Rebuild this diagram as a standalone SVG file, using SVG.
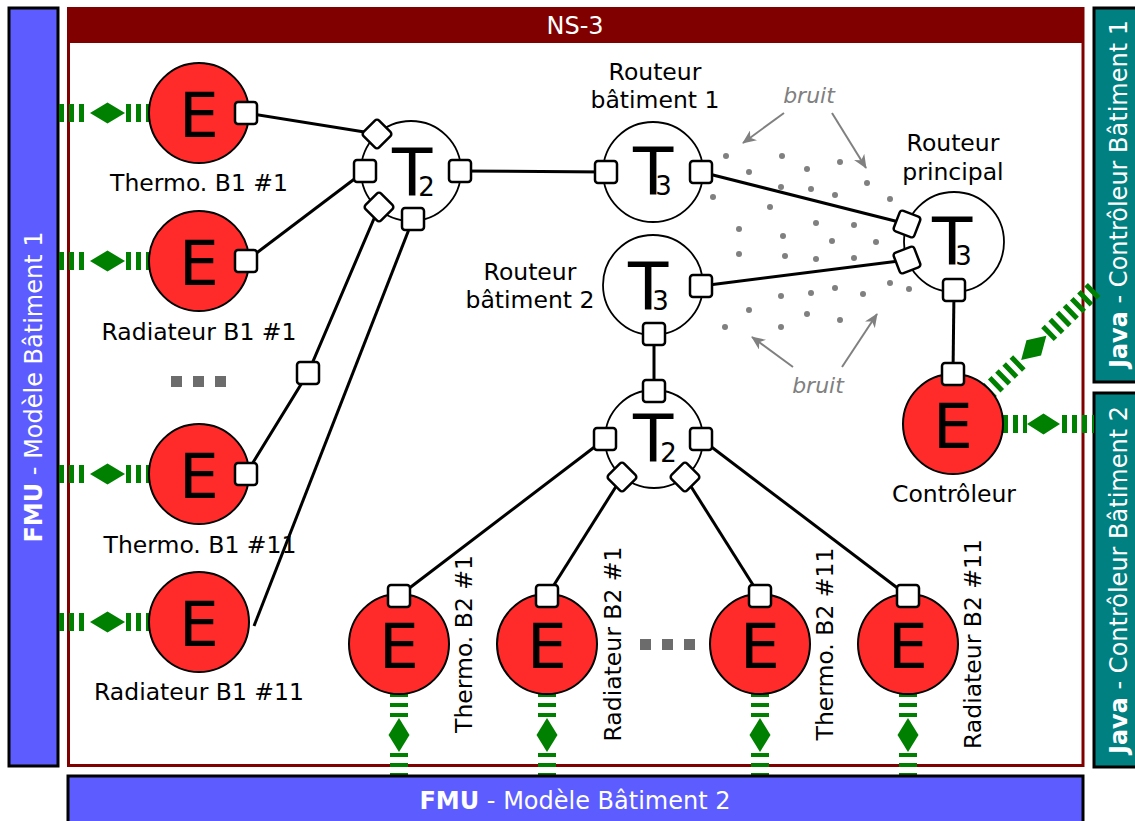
<svg xmlns="http://www.w3.org/2000/svg" width="1135" height="821" viewBox="0 0 1135 821">
<defs>
<style>
.lbl{font-family:"DejaVu Sans","Liberation Sans",sans-serif;font-size:23.5px;fill:#000;text-anchor:middle}
.bar{font-family:"DejaVu Sans","Liberation Sans",sans-serif;font-size:24px;fill:#fff;text-anchor:middle}
.b{font-weight:bold}
.e circle{fill:#ff2a2a;stroke:#000;stroke-width:2}
.big{font-family:"DejaVu Sans","Liberation Sans",sans-serif;font-size:63px;fill:#000}
.tt{font-family:"DejaVu Sans","Liberation Sans",sans-serif;font-size:66px;fill:#000}
.sub{font-size:26px}
.t circle{fill:#fff;stroke:#000;stroke-width:1.8}
.port{fill:#fff;stroke:#000;stroke-width:2.5}
.wire{stroke:#000;stroke-width:3;fill:none}
.gd{stroke:#008000;stroke-width:18;stroke-dasharray:5 5;fill:none}
.dia{fill:#008000}
.dot{fill:#808080}
.ar{stroke:#808080;stroke-width:2;fill:none;marker-end:url(#ah)}
.bruit{font-family:"DejaVu Sans","Liberation Sans",sans-serif;font-style:italic;font-size:22px;fill:#808080;text-anchor:middle}
.ell{fill:#6c6c6c}
</style>
<rect id="p" x="-11" y="-11" width="22" height="22" rx="3"/>
<marker id="ah" markerUnits="userSpaceOnUse" markerWidth="14" markerHeight="12" viewBox="0 0 14 12" refX="13" refY="6" orient="auto">
<path d="M0,0 L14,6 L0,12 L4,6 z" fill="#808080"/>
</marker>
<g id="lhl">
<line class="gd" x1="59" y1="0" x2="88" y2="0"/>
<polygon class="dia" points="90,0 107.5,-10.5 125,0 107.5,10.5"/>
<line class="gd" x1="126" y1="0" x2="150" y2="0"/>
</g>
<g id="vl">
<line class="gd" x1="0" y1="693" x2="0" y2="718" style="stroke-dasharray:4 6"/>
<polygon class="dia" points="0,718 10.5,735 0,752 -10.5,735"/>
<line class="gd" x1="0" y1="753" x2="0" y2="776" style="stroke-dasharray:4 6"/>
</g>
</defs>

<rect x="0" y="0" width="1135" height="821" fill="#fff"/>

<g id="ns3-frame">
<rect x="68.5" y="8.5" width="1014.5" height="757" fill="#fff" stroke="#800000" stroke-width="3"/>
<rect x="67" y="7" width="1017" height="36" fill="#800000"/>
<text class="bar" x="575" y="34">NS-3</text>
</g>

<g id="fmu-b1">
<rect x="9" y="8" width="49" height="758" fill="#5c5cff" stroke="#000" stroke-width="3"/>
<text class="bar" transform="translate(42,387) rotate(-90)"><tspan class="b">FMU</tspan> - Modèle Bâtiment 1</text>
</g>

<g id="java-b1">
<rect x="1094" y="8" width="45" height="374" fill="#008080" stroke="#000" stroke-width="3"/>
<text class="bar" transform="translate(1127,194) rotate(-90)"><tspan class="b">Java</tspan> - Contrôleur Bâtiment 1</text>
</g>
<g id="java-b2">
<rect x="1094" y="393" width="45" height="374" fill="#008080" stroke="#000" stroke-width="3"/>
<text class="bar" transform="translate(1127,580) rotate(-90)"><tspan class="b">Java</tspan> - Contrôleur Bâtiment 2</text>
</g>

<g id="connectors">
<line class="wire" x1="246" y1="113" x2="377" y2="134"/>
<line class="wire" x1="246" y1="261" x2="365" y2="171"/>
<polyline class="wire" points="246,474 308,373 379,207"/>
<line class="wire" x1="254" y1="626" x2="413" y2="219"/>
<line class="wire" x1="460" y1="171" x2="606" y2="172"/>
<line class="wire" x1="701" y1="172" x2="907" y2="224"/>
<line class="wire" x1="701" y1="286" x2="907" y2="260"/>
<line class="wire" x1="954" y1="290" x2="953" y2="374"/>
<line class="wire" x1="654" y1="334" x2="654" y2="391"/>
<line class="wire" x1="605" y1="439" x2="399" y2="596"/>
<line class="wire" x1="622" y1="477" x2="547" y2="596"/>
<line class="wire" x1="685" y1="477" x2="760" y2="596"/>
<line class="wire" x1="701" y1="439" x2="908" y2="596"/>
<use href="#p" class="port" x="308" y="373"/>
<use href="#lhl" y="113"/>
<use href="#lhl" y="261"/>
<use href="#lhl" y="474"/>
<use href="#lhl" y="622"/>
<use href="#vl" x="399"/>
<use href="#vl" x="547"/>
<use href="#vl" x="760"/>
<use href="#vl" x="908"/>
<line class="gd" x1="1003" y1="424" x2="1027" y2="424"/>
<polygon class="dia" points="1027,424 1043.5,413.5 1060,424 1043.5,434.5"/>
<line class="gd" x1="1062" y1="424" x2="1094" y2="424"/>
<g transform="translate(987,393) rotate(-44)">
<line class="gd" x1="0" y1="0" x2="46" y2="0"/>
<polygon class="dia" points="47.5,0 65,-10.5 82.5,0 65,10.5"/>
<line class="gd" x1="84" y1="0" x2="149" y2="0"/>
</g>
</g>

<g id="fmu-b2">
<rect x="68" y="776" width="1015" height="50" fill="#5c5cff" stroke="#000" stroke-width="3"/>
<text class="bar" x="575" y="809"><tspan class="b">FMU</tspan> - Modèle Bâtiment 2</text>
</g>

<g id="noise">
<circle class="dot" cx="726" cy="156" r="3"/><circle class="dot" cx="782" cy="156" r="3"/>
<circle class="dot" cx="749" cy="172" r="3"/><circle class="dot" cx="807" cy="169" r="3"/>
<circle class="dot" cx="840" cy="162" r="3"/><circle class="dot" cx="867" cy="183" r="3"/>
<circle class="dot" cx="890" cy="199" r="3"/><circle class="dot" cx="713" cy="197" r="3"/>
<circle class="dot" cx="770" cy="207" r="3"/><circle class="dot" cx="781" cy="187" r="3"/>
<circle class="dot" cx="811" cy="189" r="3"/><circle class="dot" cx="835" cy="195" r="3"/>
<circle class="dot" cx="739" cy="229" r="3"/><circle class="dot" cx="816" cy="223" r="3"/>
<circle class="dot" cx="854" cy="225" r="3"/><circle class="dot" cx="783" cy="236" r="3"/>
<circle class="dot" cx="832" cy="241" r="3"/><circle class="dot" cx="876" cy="242" r="3"/>
<circle class="dot" cx="739" cy="254" r="3"/><circle class="dot" cx="785" cy="256" r="3"/>
<circle class="dot" cx="816" cy="259" r="3"/><circle class="dot" cx="854" cy="258" r="3"/>
<circle class="dot" cx="890" cy="283" r="3"/><circle class="dot" cx="909" cy="289" r="3"/>
<circle class="dot" cx="781" cy="296" r="3"/><circle class="dot" cx="811" cy="293" r="3"/>
<circle class="dot" cx="835" cy="288" r="3"/><circle class="dot" cx="863" cy="294" r="3"/>
<circle class="dot" cx="749" cy="310" r="3"/><circle class="dot" cx="807" cy="314" r="3"/>
<circle class="dot" cx="840" cy="320" r="3"/><circle class="dot" cx="725" cy="327" r="3"/>
<circle class="dot" cx="781" cy="327" r="3"/>
<text class="bruit" x="809" y="103">bruit</text>
<line class="ar" x1="784" y1="113" x2="743" y2="143"/>
<line class="ar" x1="832" y1="113" x2="866" y2="168"/>
<text class="bruit" x="818" y="393">bruit</text>
<line class="ar" x1="793" y1="367" x2="752" y2="337"/>
<line class="ar" x1="842" y1="367" x2="877" y2="314"/>
</g>

<g id="ellipsis-b1" class="ell">
<rect x="171" y="376" width="11" height="11"/><rect x="193" y="376" width="11" height="11"/><rect x="215" y="376" width="11" height="11"/>
</g>
<g id="ellipsis-b2" class="ell">
<rect x="640" y="639" width="11" height="11"/><rect x="662" y="639" width="11" height="11"/><rect x="684" y="639" width="11" height="11"/>
</g>

<g id="thermo-b1-1" class="e">
<circle cx="199" cy="113" r="50"/><text class="big" x="199" y="137" text-anchor="middle">E</text>
<use href="#p" class="port" x="246" y="113"/>
<text class="lbl" x="199" y="191">Thermo. B1 #1</text>
</g>
<g id="radiateur-b1-1" class="e">
<circle cx="199" cy="261" r="50"/><text class="big" x="199" y="285" text-anchor="middle">E</text>
<use href="#p" class="port" x="246" y="261"/>
<text class="lbl" x="199" y="340">Radiateur B1 #1</text>
</g>
<g id="thermo-b1-11" class="e">
<circle cx="199" cy="474" r="50"/><text class="big" x="199" y="498" text-anchor="middle">E</text>
<use href="#p" class="port" x="246" y="474"/>
<text class="lbl" x="200" y="553">Thermo. B1 #11</text>
</g>
<g id="radiateur-b1-11" class="e">
<circle cx="199" cy="622" r="50"/><text class="big" x="199" y="646" text-anchor="middle">E</text>
<text class="lbl" x="199" y="700">Radiateur B1 #11</text>
</g>

<g id="switch-b1" class="t">
<circle cx="411" cy="171" r="50"/>
<text class="tt" x="392" y="196">T<tspan class="sub" dx="-14">2</tspan></text>
<use href="#p" class="port" transform="translate(377,134) rotate(45)"/>
<use href="#p" class="port" x="365" y="171"/>
<use href="#p" class="port" transform="translate(379,207) rotate(45)"/>
<use href="#p" class="port" x="413" y="219"/>
<use href="#p" class="port" x="460" y="171"/>
</g>

<g id="routeur-b1" class="t">
<circle cx="653" cy="172" r="50"/>
<text class="tt" x="633" y="195">T<tspan class="sub" dx="-18">3</tspan></text>
<use href="#p" class="port" x="606" y="172"/>
<use href="#p" class="port" x="701" y="172"/>
<text class="lbl" x="655" y="80">Routeur</text>
<text class="lbl" x="655" y="108">bâtiment 1</text>
</g>

<g id="routeur-b2" class="t">
<circle cx="653" cy="285" r="50"/>
<text class="tt" x="628" y="310">T<tspan class="sub" dx="-16">3</tspan></text>
<use href="#p" class="port" x="701" y="286"/>
<use href="#p" class="port" x="654" y="334"/>
<text class="lbl" x="530" y="280">Routeur</text>
<text class="lbl" x="530" y="308">bâtiment 2</text>
</g>

<g id="routeur-principal" class="t">
<circle cx="954" cy="242" r="50"/>
<text class="tt" x="932" y="265">T<tspan class="sub" dx="-17">3</tspan></text>
<use href="#p" class="port" transform="translate(907,224) rotate(21)"/>
<use href="#p" class="port" transform="translate(907,260) rotate(-21)"/>
<use href="#p" class="port" x="954" y="290"/>
<text class="lbl" x="953" y="151">Routeur</text>
<text class="lbl" x="953" y="180">principal</text>
</g>

<g id="switch-b2" class="t">
<circle cx="654" cy="439" r="49"/>
<text class="tt" x="633" y="462">T<tspan class="sub" dx="-13">2</tspan></text>
<use href="#p" class="port" x="654" y="391"/>
<use href="#p" class="port" x="605" y="439"/>
<use href="#p" class="port" x="701" y="439"/>
<use href="#p" class="port" transform="translate(622,477) rotate(45)"/>
<use href="#p" class="port" transform="translate(685,477) rotate(45)"/>
</g>

<g id="controleur" class="e">
<circle cx="953" cy="424" r="50"/><text class="big" x="953" y="448" text-anchor="middle">E</text>
<use href="#p" class="port" x="953" y="374"/>
<text class="lbl" x="954" y="502">Contrôleur</text>
</g>

<g id="thermo-b2-1" class="e">
<circle cx="399" cy="644" r="50"/><text class="big" x="399" y="668" text-anchor="middle">E</text>
<use href="#p" class="port" x="399" y="596"/>
<text class="lbl" transform="translate(472,644) rotate(-90)">Thermo. B2 #1</text>
</g>
<g id="radiateur-b2-1" class="e">
<circle cx="547" cy="644" r="50"/><text class="big" x="547" y="668" text-anchor="middle">E</text>
<use href="#p" class="port" x="547" y="596"/>
<text class="lbl" transform="translate(621,644) rotate(-90)">Radiateur B2 #1</text>
</g>
<g id="thermo-b2-11" class="e">
<circle cx="760" cy="644" r="50"/><text class="big" x="760" y="668" text-anchor="middle">E</text>
<use href="#p" class="port" x="760" y="596"/>
<text class="lbl" transform="translate(833,644) rotate(-90)">Thermo. B2 #11</text>
</g>
<g id="radiateur-b2-11" class="e">
<circle cx="908" cy="644" r="50"/><text class="big" x="908" y="668" text-anchor="middle">E</text>
<use href="#p" class="port" x="908" y="596"/>
<text class="lbl" transform="translate(981,644) rotate(-90)">Radiateur B2 #11</text>
</g>
</svg>
